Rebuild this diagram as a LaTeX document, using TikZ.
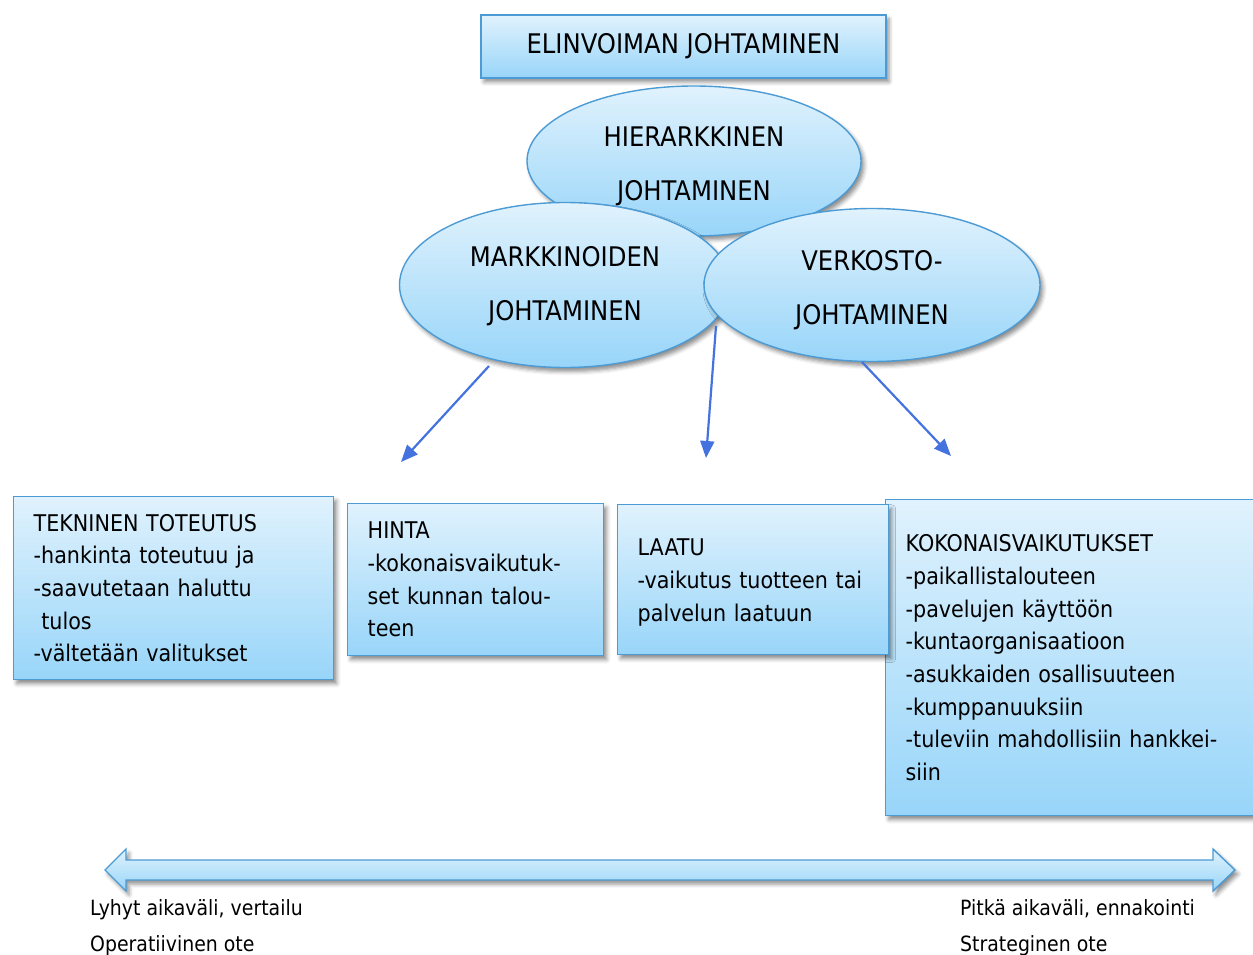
\documentclass[tikz,border=0pt]{standalone}
\usepackage{fontspec}
\setmainfont{DejaVu Sans Condensed}
\usetikzlibrary{arrows.meta,shadows.blur,shapes.geometric}
\definecolor{fillTop}{HTML}{E0F2FD}
\definecolor{fillBot}{HTML}{98D5F9}
\definecolor{edgeBlue}{HTML}{4C9BD4}
\definecolor{linkBlue}{HTML}{4472DE}
\newcommand\padtop[1]{\rule{0pt}{#1}}
\tikzset{
  panel/.style={draw=edgeBlue, line width=1.4pt, top color=fillTop, bottom color=fillBot,
    blur shadow={shadow xshift=3pt, shadow yshift=-4pt, shadow blur radius=4pt, shadow opacity=45}},
  titlebox/.style={panel, rectangle, minimum width=405pt, minimum height=63pt, inner sep=0pt,
    font=\fontsize{27}{32}\selectfont},
  oval/.style={panel, ellipse, inner sep=0pt, align=center, font=\fontsize{27}{54}\selectfont},
  infobox/.style={panel, rectangle, anchor=north west, inner xsep=20pt, inner ysep=0pt, align=left,
    font=\fontsize{23}{32.7}\selectfont},
  link/.style={draw=linkBlue, line width=2.2pt, -{Triangle[length=17pt,width=14pt]}},
  caption/.style={anchor=base west, inner sep=0pt, font=\fontsize{21}{25}\selectfont}
}
\begin{document}
\begin{tikzpicture}[x=1pt,y=-1pt]
\path[use as bounding box, clip] (0,0) rectangle (1253,955);

% heading
\node[titlebox] (head) at (683.5,46.5) {ELINVOIMAN JOHTAMINEN};

% three management modes
\node[oval, minimum width=334pt, minimum height=150pt] (hier) at (694,161) {\padtop{31pt}HIERARKKINEN\\JOHTAMINEN};
\node[oval, minimum width=331pt, minimum height=165pt] (mark) at (565,285) {\padtop{23pt}MARKKINOIDEN\\JOHTAMINEN};
\node[oval, minimum width=336pt, minimum height=153pt] (verk) at (872,285) {\padtop{31pt}VERKOSTO-\\JOHTAMINEN};

% arrows towards the evaluation boxes
\coordinate (a1s) at (489,366);
\coordinate (a1e) at (401,462);
\coordinate (a2s) at (716,326);
\coordinate (a2e) at (706,458);
\coordinate (a3s) at (862,362);
\coordinate (a3e) at (951,456);
\draw[link] (a1s) -- (a1e);
\draw[link] (a2s) -- (a2e);
\draw[link] (a3s) -- (a3e);

% evaluation boxes
\node[infobox, text width=280pt, minimum height=183pt] (tek) at (13,496)
  {TEKNINEN TOTEUTUS\\-hankinta toteutuu ja\\-saavutetaan haluttu\\\ tulos\\-vältetään valitukset};
\node[infobox, text width=216pt, minimum height=152pt] (hinta) at (347,503)
  {HINTA\\-kokonaisvaikutuk-\\set kunnan talou-\\teen};
\node[infobox, text width=340pt, minimum height=316pt] (koko) at (885,499)
  {KOKONAISVAIKUTUKSET\\-paikallistalouteen\\-pavelujen käyttöön\\-kuntaorganisaatioon\\-asukkaiden osallisuuteen\\-kumppanuuksiin\\-tuleviin mahdollisiin hankkei-\\siin};
\node[infobox, text width=231pt, minimum height=150pt] (laatu) at (617,504)
  {\padtop{22pt}LAATU\\-vaikutus tuotteen tai\\palvelun laatuun};

% time axis
\path[panel, line join=miter] (105,870) -- (126,849) -- (126,860) -- (1213,860) -- (1213,849)
  -- (1235,870) -- (1213,891) -- (1213,880) -- (126,880) -- (126,891) -- cycle;

\node[caption] (shortA) at (90,915) {Lyhyt aikaväli, vertailu};
\node[caption] (shortB) at (90,951) {Operatiivinen ote};
\node[caption] (longA) at (960,915) {Pitkä aikaväli, ennakointi};
\node[caption] (longB) at (960,951) {Strateginen ote};
\end{tikzpicture}
\end{document}
